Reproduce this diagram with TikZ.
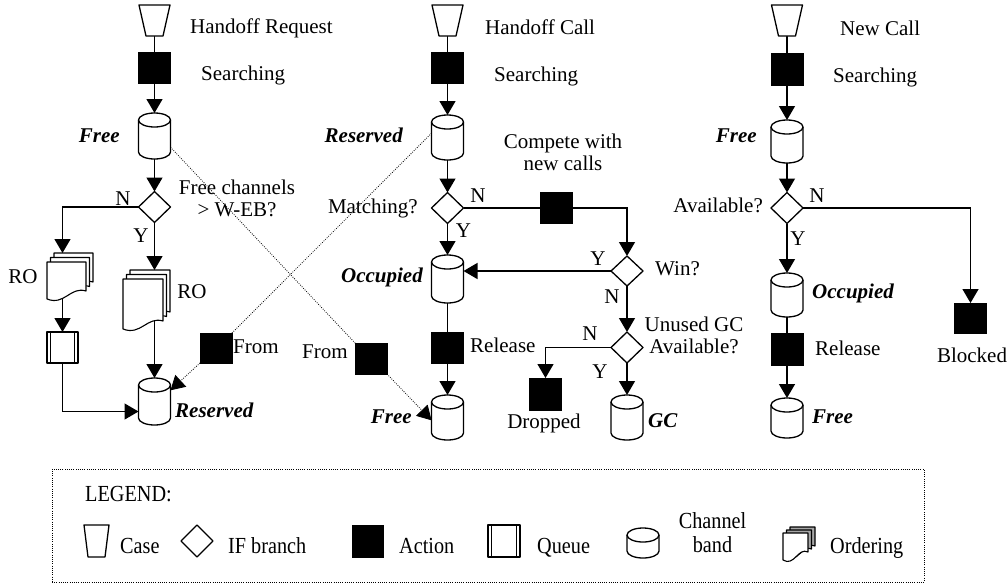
\documentclass[tikz,border=0pt]{standalone}
\usepackage{fontspec}
\setmainfont{Liberation Serif}
\newfontfamily\legendfont[FakeStretch=0.88]{Liberation Serif}
\usetikzlibrary{arrows.meta,shapes.geometric,fit}
\pgfdeclarelayer{background}
\pgfsetlayers{background,main}

\tikzset{
  outline/.style={draw=black, line width=1.3pt, fill=white, line join=round},
  box/.style={inner sep=0pt, outer sep=0pt},
  action/.style={box, draw=black, fill=black, line width=1pt, minimum width=32pt, minimum height=31pt},
  ifbranch/.style={box, diamond, outline, minimum width=32pt, minimum height=31pt},
  queue/.style={box, outline, minimum width=31pt, minimum height=31pt},
  flow/.style={line width=1.35pt},
  arr/.style={flow, -{Triangle[length=14pt,width=16pt]}},
  link/.style={line width=0.8pt, dash pattern=on 0.8pt off 1.4pt},
  linkarr/.style={link, -{Triangle[length=14pt,width=16pt]}},
  lbl/.style={inner sep=0pt, font=\fontsize{21}{22}\selectfont, text height=14pt, text depth=4pt, align=center},
  state/.style={lbl, font=\fontsize{21}{22}\selectfont\bfseries\itshape},
  legtext/.style={inner sep=0pt, font=\fontsize{23}{24}\selectfont\legendfont, text height=15pt, text depth=5pt, align=center},
}

% case: name, x, y, top width, bottom width, height
\newcommand\casebox[6]{%
  \node[box, minimum width=#4pt, minimum height=#6pt] (#1) at (#2,#3) {};
  \draw[outline] ({#2-#4/2},{#3-#6/2}) -- ({#2+#4/2},{#3-#6/2}) -- ({#2+#5/2},{#3+#6/2}) -- ({#2-#5/2},{#3+#6/2}) -- cycle;}

% channel band (cylinder): name, x, y, height
\newcommand\band[4]{%
  \node[box, minimum width=32pt, minimum height=#4pt] (#1) at (#2,#3) {};
  \draw[outline] ([yshift=-7pt]#1.north west) -- ([yshift=7pt]#1.south west)
    .. controls +(0pt,-3.9pt) and +(-8.8pt,0pt) .. (#1.south)
    .. controls +(8.8pt,0pt) and +(0pt,-3.9pt) .. ([yshift=7pt]#1.south east)
    -- ([yshift=-7pt]#1.north east)
    .. controls +(0pt,3.9pt) and +(8.8pt,0pt) .. (#1.north)
    .. controls +(-8.8pt,0pt) and +(0pt,3.9pt) .. ([yshift=-7pt]#1.north west) -- cycle;
  \draw[outline, fill=none] ([yshift=-7pt]#1.north west)
    .. controls +(0pt,-3.9pt) and +(-8.8pt,0pt) .. ([yshift=-14pt]#1.north)
    .. controls +(8.8pt,0pt) and +(0pt,-3.9pt) .. ([yshift=-7pt]#1.north east);}

% one page with a wavy lower edge: x, y (top left), width, height, style
\newcommand\docpage[5]{%
  \draw[#5] ({#1},{#2}) -- ({#1+#3},{#2}) -- ({#1+#3},{#2+#4-8})
    .. controls ({#1+0.6*#3},{#2+#4-13}) and ({#1+0.45*#3},{#2+#4+7}) .. ({#1},{#2+#4}) -- cycle;}

% ordering (stack of three pages): name, x, y, width, height, dx, dy, back fill
\newcommand\ordering[8]{%
  \docpage{#2+2*#6}{#3-2*#7}{#4}{#5}{outline,line width=1.1pt,fill=#8}
  \docpage{#2+#6}{#3-#7}{#4}{#5}{outline,line width=1.1pt,fill=#8}
  \docpage{#2}{#3}{#4}{#5}{outline,line width=1.1pt}
  \node[box, fit={(#2,{#3-2*#7}) ({#2+#4+2*#6},{#3+#5+3})}] (#1) {};}

\begin{document}
\begin{tikzpicture}[x=1pt,y=-1pt]
\useasboundingbox (0,0) rectangle (1008,584);

% ---------- handoff request ----------
\casebox{caseL}{154.5}{20.5}{31}{17}{31}
\node[action] (actL) at (154.5,67.5) {};
\band{freeL}{154.5}{136}{46}
\node[ifbranch] (ifL) at (154.5,207) {};
\ordering{docN}{47}{262}{39}{37}{3.5}{4.5}{white}
\ordering{docY}{123}{279}{40}{50}{3.5}{4.5}{white}
\node[queue] (queueL) at (62.5,347.5) {};
\draw[flow] ([xshift=3.5pt]queueL.north west) -- ([xshift=3.5pt]queueL.south west);
\draw[flow] ([xshift=-3.5pt]queueL.north east) -- ([xshift=-3.5pt]queueL.south east);
\band{resL}{154.5}{401.5}{47}
\node[action, minimum height=30pt] (fromL) at (216,348) {};

\node[lbl, anchor=west] (tReq) at (190,28) {Handoff Request};
\node[lbl, anchor=west] (tSearchL) at (201,75) {Searching};
\node[state, anchor=east] (tFreeL) at (120,137) {Free};
\node[lbl] (tNL) at (123,200) {N};
\node[lbl] (tCond) at (237,211) {Free channels\\> W-EB?};
\node[lbl] (tYL) at (141,237) {Y};
\node[lbl] (tRO1) at (23,278) {RO};
\node[lbl] (tRO2) at (192,293) {RO};
\node[lbl, anchor=west] (tFromL) at (233,348) {From};
\node[state, anchor=west] (tResL) at (175,412) {Reserved};

% ---------- handoff call ----------
\casebox{caseC}{447.5}{20.5}{31}{17}{31}
\node[action] (actC) at (447.5,67.5) {};
\band{resC}{447.5}{137.5}{45}
\node[ifbranch] (ifC) at (447.5,208) {};
\node[action] (compete) at (556.5,208) {};
\node[ifbranch, minimum height=30pt] (win) at (627,271) {};
\band{occC}{447.5}{279}{48}
\node[action] (relC) at (447.5,347.5) {};
\band{freeC}{447.5}{417.5}{45}
\node[ifbranch] (unused) at (627,347.5) {};
\node[action, minimum height=32pt] (drop) at (545.5,394) {};
\band{gc}{627}{417.5}{45}
\node[action] (fromC) at (371,358.5) {};

\node[lbl, anchor=west] (tCall) at (485,29) {Handoff Call};
\node[lbl, anchor=west] (tSearchC) at (494,76) {Searching};
\node[state, anchor=east] (tResC) at (403,137) {Reserved};
\node[lbl, anchor=east] (tMatch) at (418,208) {Matching?};
\node[lbl] (tNC) at (478,197) {N};
\node[lbl] (tYC) at (463.5,232) {Y};
\node[lbl] (tCompete) at (563,165) {Compete with\\new calls};
\node[lbl] (tYWin) at (598,260) {Y};
\node[lbl, anchor=west] (tWin) at (655,270) {Win?};
\node[state, anchor=east] (tOccC) at (423,277) {Occupied};
\node[lbl] (tNWin) at (612,298) {N};
\node[lbl] (tNGC) at (590,335) {N};
\node[lbl] (tUnused) at (694,348.5) {Unused GC\\Available?};
\node[lbl] (tYGC) at (600,373) {Y};
\node[lbl, anchor=west] (tRelC) at (470,347) {Release};
\node[lbl, anchor=west] (tFromC) at (302,353) {From};
\node[state, anchor=east] (tFreeC) at (412,418) {Free};
\node[lbl] (tDrop) at (544,423) {Dropped};
\node[state, anchor=west] (tGC) at (648,422) {GC};

% ---------- new call ----------
\casebox{caseR}{787}{20.5}{31}{17}{31}
\node[action, minimum height=32pt] (actR) at (787,69) {};
\band{freeR}{787}{141.5}{43}
\node[ifbranch] (ifR) at (787,208) {};
\band{occR}{787}{295}{44}
\node[action, minimum height=32pt] (relR) at (787,349) {};
\band{freeR2}{787}{418}{40}
\node[action, minimum height=30pt] (blocked) at (970.5,318) {};

\node[lbl, anchor=west] (tNew) at (840,30) {New Call};
\node[lbl, anchor=west] (tSearchR) at (833,77) {Searching};
\node[state, anchor=east] (tFreeR) at (757,137) {Free};
\node[lbl, anchor=east] (tAvail) at (763,207) {Available?};
\node[lbl] (tNR) at (817,197) {N};
\node[lbl] (tYR) at (798,240) {Y};
\node[state, anchor=west] (tOccR) at (812,293) {Occupied};
\node[lbl, anchor=west] (tRelR) at (815,350) {Release};
\node[state, anchor=west] (tFreeR2) at (812,418) {Free};
\node[lbl] (tBlocked) at (972,357) {Blocked};

% ---------- connectors ----------
\begin{pgfonlayer}{background}
  % handoff request
  \draw[flow] (caseL) -- (actL);
  \draw[arr] (actL) -- (freeL);
  \draw[arr] (freeL) -- (ifL);
  \draw[arr] (ifL.west) -| (docN.north -| queueL);
  \draw[arr] (ifL.south) -- (ifL.south |- docY.north);
  \draw[arr] (queueL |- docN.center) -- (queueL);
  \draw[arr] (queueL) |- (resL.212);
  \draw[arr] (resL |- docY.center) -- (resL);
  % handoff call
  \draw[flow] (caseC) -- (actC);
  \draw[arr] (actC) -- (resC);
  \draw[arr] (resC) -- (ifC);
  \draw[arr] (ifC) -- (occC);
  \draw[flow] (ifC.east) -- (compete.west);
  \draw[arr] (compete.east) -| (win.north);
  \draw[arr] (win.west) -- (win.west -| occC.east);
  \draw[arr] (win.south) -- (unused.north);
  \draw[arr] (unused.west) -| (drop.north);
  \draw[arr] (unused.south) -- (gc.north);
  \draw[flow] (occC) -- (relC);
  \draw[arr] (relC) -- (freeC);
  % new call
  \draw[flow] (caseR) -- (actR);
  \draw[arr] (actR) -- (freeR);
  \draw[arr] (freeR) -- (ifR);
  \draw[arr] (ifR.east) -| (blocked.north);
  \draw[arr] (ifR) -- (occR);
  \draw[flow] (occR) -- (relR);
  \draw[arr] (relR) -- (freeR2);
\end{pgfonlayer}
% channels passed between the two handoff flows
\draw[link] (freeL.-35) -- (fromC.north west);
\draw[linkarr] (fromC.south east) -- (freeC.190);
\draw[link] (resC.165) -- (fromL.north east);
\draw[linkarr] (fromL.south west) -- (resL.35);

% ---------- legend ----------
\node[box, draw, link, minimum width=872pt, minimum height=113pt] (legend) at (488,525.5) {};
\node[legtext, anchor=west] (tLegend) at (85,496) {LEGEND:};
\casebox{legCase}{96.5}{541}{25}{17}{32}
\node[legtext, anchor=west] (tCase) at (120,548) {Case};
\node[ifbranch, minimum width=32pt, minimum height=32pt] (legIf) at (197,541) {};
\node[legtext, anchor=west] (tIf) at (228,548) {IF branch};
\node[action, minimum width=31pt, minimum height=32pt] (legAct) at (367.5,541) {};
\node[legtext, anchor=west] (tAct) at (399,548) {Action};
\node[queue, minimum width=32pt, minimum height=32pt] (legQ) at (504,541) {};
\draw[flow] ([xshift=3.5pt]legQ.north west) -- ([xshift=3.5pt]legQ.south west);
\draw[flow] ([xshift=-3.5pt]legQ.north east) -- ([xshift=-3.5pt]legQ.south east);
\node[legtext, anchor=west] (tQ) at (537,548) {Queue};
\band{legBand}{643}{543}{30}
\node[legtext] (tBand) at (712.5,547) {Channel\\band};
\ordering{legDoc}{783}{533}{25}{27}{3.5}{3}{gray!70}
\node[legtext, anchor=west] (tOrder) at (830,548) {Ordering};
\end{tikzpicture}
\end{document}
